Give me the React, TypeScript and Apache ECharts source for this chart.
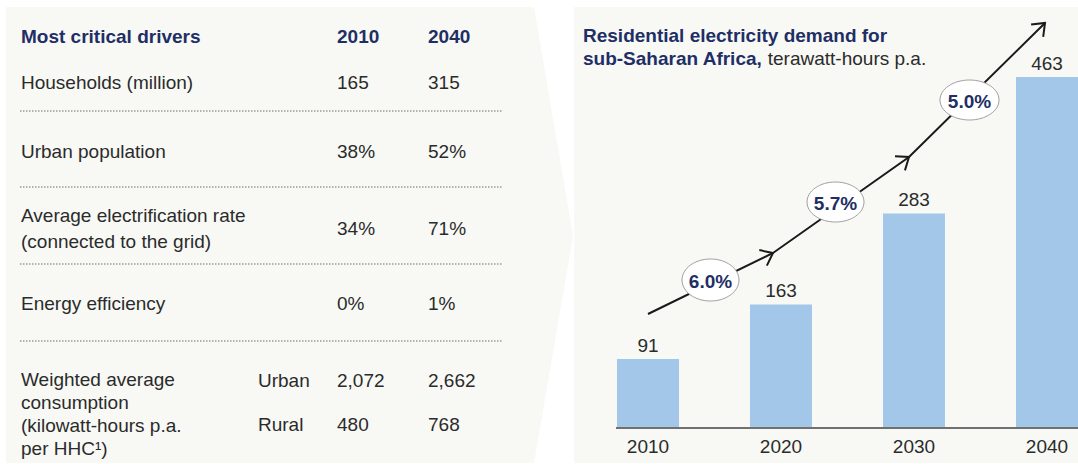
import React, { useEffect, useRef } from "react";
import * as echarts from "echarts";

// ---- Data ----
const categories = ["2010", "2020", "2030", "2040"];
const demand = [91, 163, 283, 463];
const growthLabels = ["6.0%", "5.7%", "5.0%"];

const tableHeader = ["Most critical drivers", "2010", "2040"];
const driverNames = [
  "Households (million)",
  "Urban population",
  "Average electrification rate\n(connected to the grid)",
  "Energy efficiency",
];
const drivers2010 = ["165", "38%", "34%", "0%"];
const drivers2040 = ["315", "52%", "71%", "1%"];
const consumptionLabel = "Weighted average\nconsumption\n(kilowatt-hours p.a.\nper HHC\u00b9)";
const consumptionSegments = ["Urban", "Rural"];
const consumption2010 = ["2,072", "480"];
const consumption2040 = ["2,662", "768"];

const chartTitleLine1 = "Residential electricity demand for";
const chartTitleBold = "sub-Saharan Africa,";
const chartTitleUnit = "terawatt-hours p.a.";

// ---- Styles ----
const FONT = "'Liberation Sans', Arial, sans-serif";
const NAVY = "#1f2f66";
const TEXT = "#2b2b2b";
const BG = "#f8f9f5";
const BAR = "#a3c7e8";
const FS = 19;

function txt(x: number, y: number, text: string, opts: any = {}) {
  return {
    type: "text",
    x,
    y,
    z: 10,
    style: {
      text,
      fill: opts.fill || TEXT,
      font: `${opts.bold ? "bold " : ""}${opts.size || FS}px ${FONT}`,
      align: opts.align || "left",
      verticalAlign: opts.va || "middle",
      lineHeight: opts.lineHeight,
      rich: opts.rich,
    },
  };
}

export default function App() {
  const ref = useRef<HTMLDivElement>(null);

  useEffect(() => {
    if (!ref.current) return;
    const chart = echarts.init(ref.current, null, { renderer: "svg" });

    const graphics: any[] = [];
    // backgrounds
    graphics.push({
      type: "polygon",
      z: 0,
      shape: { points: [[6, 7], [534, 7], [573, 236], [534, 463], [6, 463]] },
      style: { fill: BG },
    });
    graphics.push({
      type: "rect",
      z: 0,
      shape: { x: 574, y: 7, width: 504, height: 456 },
      style: { fill: BG },
    });

    // table
    const colX = [21, 337, 428];
    graphics.push(txt(colX[0], 36, tableHeader[0], { bold: true, fill: NAVY }));
    graphics.push(txt(colX[1], 36, tableHeader[1], { bold: true, fill: NAVY }));
    graphics.push(txt(colX[2], 36, tableHeader[2], { bold: true, fill: NAVY }));
    const rowY = [82, 151, 228, 303];
    driverNames.forEach((name, i) => {
      graphics.push(txt(colX[0], rowY[i], name, { lineHeight: 26 }));
      graphics.push(txt(colX[1], rowY[i], drivers2010[i]));
      graphics.push(txt(colX[2], rowY[i], drivers2040[i]));
    });
    const sepY = [111, 187, 264, 341];
    sepY.forEach((y) => {
      graphics.push({
        type: "line",
        z: 5,
        shape: { x1: 20, y1: y, x2: 503, y2: y },
        style: { stroke: "#9a9a9a", lineWidth: 1.5, lineDash: [1.5, 1.5] },
      });
    });
    graphics.push(txt(colX[0], 414, consumptionLabel, { lineHeight: 22.7 }));
    const segY = [380, 424];
    consumptionSegments.forEach((s, i) => {
      graphics.push(txt(258, segY[i], s));
      graphics.push(txt(colX[1], segY[i], consumption2010[i]));
      graphics.push(txt(colX[2], segY[i], consumption2040[i]));
    });

    // chart title
    graphics.push(txt(583, 35, chartTitleLine1, { bold: true, fill: NAVY }));
    graphics.push(
      txt(583, 58, `{b|${chartTitleBold}} {n|${chartTitleUnit}}`, {
        rich: {
          b: { font: `bold ${FS}px ${FONT}`, fill: NAVY },
          n: { font: `${FS}px ${FONT}`, fill: TEXT },
        },
      })
    );

    // baseline
    graphics.push({
      type: "line",
      z: 6,
      shape: { x1: 616, y1: 428, x2: 1078, y2: 428 },
      style: { stroke: "#707070", lineWidth: 2 },
    });

    // growth arrow
    const pts = [[648, 314], [773, 253], [909, 157], [1045, 23]];
    graphics.push({
      type: "polyline",
      z: 20,
      shape: { points: pts },
      style: { stroke: "#1a1a1a", lineWidth: 2, fill: "none" },
    });
    for (let i = 1; i < pts.length; i++) {
      const [x0, y0] = pts[i - 1];
      const [x1, y1] = pts[i];
      const ang = Math.atan2(y0 - y1, x0 - x1);
      const len = 14;
      const a = (38 * Math.PI) / 180;
      graphics.push({
        type: "polyline",
        z: 20,
        shape: {
          points: [
            [x1 + len * Math.cos(ang + a), y1 + len * Math.sin(ang + a)],
            [x1, y1],
            [x1 + len * Math.cos(ang - a), y1 + len * Math.sin(ang - a)],
          ],
        },
        style: { stroke: "#1a1a1a", lineWidth: 2, fill: "none" },
      });
    }
    const ellipses = [
      [710.5, 280, 28.5, 21],
      [835.5, 202, 28.5, 20],
      [969.5, 100, 29.5, 20],
    ];
    ellipses.forEach(([cx, cy, rx, ry], i) => {
      graphics.push({
        type: "ellipse",
        z: 21,
        shape: { cx, cy, rx, ry },
        style: { fill: "#ffffff", stroke: "#a0a0a0", lineWidth: 1 },
      });
      const t: any = txt(cx, cy + 1, growthLabels[i], { bold: true, fill: NAVY, align: "center" });
      t.z = 22;
      graphics.push(t);
    });

    chart.setOption({
      animation: false,
      backgroundColor: "#ffffff",
      grid: {
        left: 581.5,
        width: 532,
        top: 49,
        height: 379,
        containLabel: false,
        outerBoundsMode: "none",
      },
      xAxis: {
        type: "category",
        data: categories,
        axisLine: { show: false },
        axisTick: { show: false },
        axisLabel: { margin: 9, color: TEXT, fontSize: FS, fontFamily: FONT },
      },
      yAxis: { type: "value", min: 0, max: 500, show: false, splitLine: { show: false } },
      series: [
        {
          type: "bar",
          data: demand,
          barWidth: 62,
          z: 3,
          itemStyle: { color: BAR },
          label: {
            show: true,
            position: "top",
            distance: 4,
            color: TEXT,
            fontSize: FS,
            fontFamily: FONT,
          },
        },
      ],
      graphic: { elements: graphics },
    });

    return () => chart.dispose();
  }, []);

  return (
    <div
      ref={ref}
      style={{ position: "absolute", left: 0, top: 0, width: 1078, height: 464 }}
    />
  );
}
